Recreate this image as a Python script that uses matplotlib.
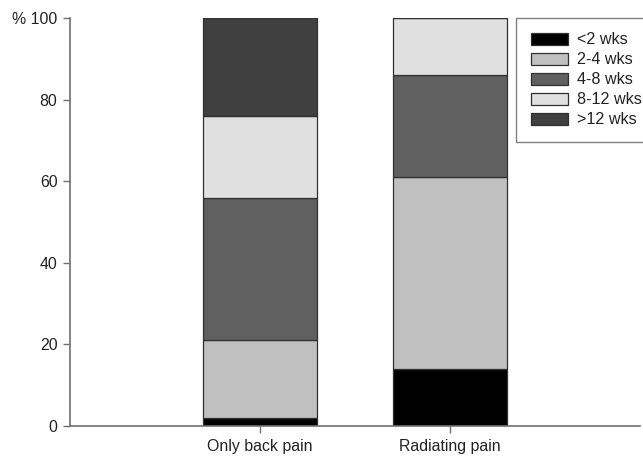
import matplotlib
matplotlib.use("Agg")
import matplotlib.pyplot as plt
import numpy as np

plt.rcParams['font.family'] = ['Liberation Sans', 'DejaVu Sans']

categories = ["Only back pain", "Radiating pain"]
series_names = ["<2 wks", "2-4 wks", "4-8 wks", "8-12 wks", ">12 wks"]
lt2 = [2, 14]
w2_4 = [19, 47]
w4_8 = [35, 25]
w8_12 = [20, 14]
gt12 = [24, 0]
series_values = [lt2, w2_4, w4_8, w8_12, gt12]
colors = ["#000000", "#c0c0c0", "#606060", "#e0e0e0", "#404040"]
yticks = [0, 20, 40, 60, 80, 100]
ytick_labels = ["0", "20", "40", "60", "80", "% 100"]

fig = plt.figure(figsize=(6.43, 4.59), dpi=100)
ax = fig.add_axes([70/643, 1-426/459, 570/643, 408/459])

x = np.arange(len(categories))
bottom = np.zeros(len(categories))
for name, vals, c in zip(series_names, series_values, colors):
    vals = np.array(vals, dtype=float)
    ax.bar(x, vals, width=0.6, bottom=bottom, color=c, edgecolor="#303030",
           linewidth=0.9, label=name)
    bottom += vals

ax.set_xlim(-1, 2)
ax.set_ylim(0, 100)
ax.set_xticks(x)
ax.set_xticklabels(categories, fontsize=11.4, color="#222222")
ax.set_yticks(yticks)
ax.set_yticklabels(ytick_labels, fontsize=11.4, color="#222222")
for s in ["top", "right"]:
    ax.spines[s].set_visible(False)
for s in ["left", "bottom"]:
    ax.spines[s].set_color("#707070")
    ax.spines[s].set_linewidth(1.2)
ax.tick_params(axis="both", direction="out", length=5, width=1, color="#707070", pad=4)

leg = fig.legend(loc="upper left", bbox_to_anchor=(516/643, 1-18/459),
                 fontsize=11.6, frameon=True, fancybox=False, edgecolor="#606060",
                 handlelength=2.3, handleheight=0.75, labelspacing=0.31,
                 handletextpad=0.56, borderpad=0.9, borderaxespad=0)
leg.get_frame().set_linewidth(1.0)
for t in leg.get_texts():
    t.set_color("#222222")

fig.savefig("out.png", dpi=100)
